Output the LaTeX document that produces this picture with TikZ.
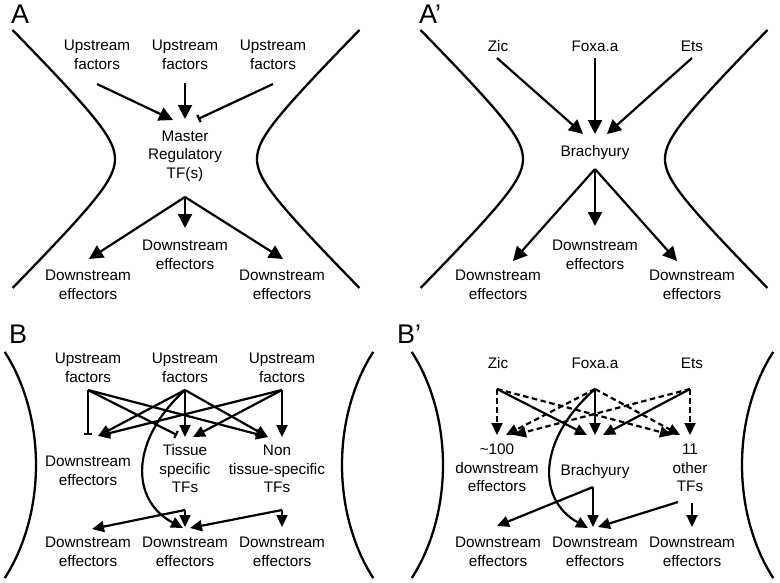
\documentclass[tikz,border=0pt]{standalone}
\usepackage{fontspec}
\setmainfont{Liberation Sans}
\usetikzlibrary{arrows.meta}
\begin{document}
\begin{tikzpicture}[x=1pt,y=-1pt,line width=2.2pt,
  txt/.style={font=\fontsize{15.3}{18.5}\selectfont,align=center,inner sep=0pt},
  lbl/.style={font=\fontsize{27}{30}\selectfont,inner sep=0pt,anchor=base west},
  bigarr/.style={-{Triangle[length=14pt,width=14pt]}},
  smarr/.style={-{Triangle[length=12pt,width=11pt]}},
  inhib/.style={-{Bar[width=8pt]}},
  dsh/.style={dash pattern=on 5.5pt off 3.5pt},
  bound/.style={line width=2.3pt}]
\useasboundingbox (0,0) rectangle (780,582);

% ---------------- boundaries ----------------
\draw[bound] plot[domain=-129:129,samples=90] ({145-10*sqrt(9+(\x/10)^2)},{159+\x});
\draw[bound] plot[domain=-129:129,samples=90] ({227+10*sqrt(9+(\x/10)^2)},{159+\x});
\draw[bound] plot[domain=-129:129,samples=90] ({553-10*sqrt(9+(\x/10)^2)},{159+\x});
\draw[bound] plot[domain=-129:129,samples=90] ({635+10*sqrt(9+(\x/10)^2)},{159+\x});
\draw[bound] plot[domain=-41.4:41.4,samples=60] ({-89+125*cos(\x)},{465+171*sin(\x)});
\draw[bound] plot[domain=-41.4:41.4,samples=60] ({467-125*cos(\x)},{465+171*sin(\x)});
\draw[bound] plot[domain=-41.4:41.4,samples=60] ({318+125*cos(\x)},{465+171*sin(\x)});
\draw[bound] plot[domain=-41.4:41.4,samples=60] ({867-125*cos(\x)},{465+171*sin(\x)});

% ---------------- panel labels ----------------
\node[lbl] (LA) at (10,23) {A};
\node[lbl] (LAp) at (418,23) {A’};
\node[lbl] (LB) at (8,343) {B};
\node[lbl] (LBp) at (396,343) {B’};

% ---------------- panel A ----------------
\node[txt] (Au1) at (97,55) {Upstream\\factors};
\node[txt] (Au2) at (185,55) {Upstream\\factors};
\node[txt] (Au3) at (273,55) {Upstream\\factors};
\node[txt] (AM) at (185,156) {Master\\Regulatory\\TF(s)};
\node[txt] (Ad1) at (88,285) {Downstream\\effectors};
\node[txt] (Ad2) at (185,255) {Downstream\\effectors};
\node[txt] (Ad3) at (282,285) {Downstream\\effectors};
\coordinate (Au1o) at (97,84);
\coordinate (Au2o) at (185,83);
\coordinate (Au3o) at (273,84);
\coordinate (AMi1) at (173,120);
\coordinate (AMi2) at (185,119);
\coordinate (AMi3) at (198,119);
\coordinate (AMo) at (185,197);
\coordinate (Ad1i) at (89,259);
\coordinate (Ad2i) at (185,228);
\coordinate (Ad3i) at (283,259);
\draw[bigarr] (Au1o) -- (AMi1);
\draw[bigarr] (Au2o) -- (AMi2);
\draw[inhib] (Au3o) -- (AMi3);
\draw[bigarr] (AMo) -- (Ad1i);
\draw[bigarr] (AMo) -- (Ad2i);
\draw[bigarr] (AMo) -- (Ad3i);

% ---------------- panel A' ----------------
\node[txt] (Pz) at (498,46) {Zic};
\node[txt] (Pf) at (595,46) {Foxa.a};
\node[txt] (Pe) at (692,46) {Ets};
\node[txt] (PB) at (595,153) {Brachyury};
\node[txt] (Pd1) at (498,285) {Downstream\\effectors};
\node[txt] (Pd2) at (595,255) {Downstream\\effectors};
\node[txt] (Pd3) at (692,285) {Downstream\\effectors};
\coordinate (Pzo) at (497,58);
\coordinate (Pfo) at (595,58);
\coordinate (Peo) at (692,58);
\coordinate (PBi1) at (583,134);
\coordinate (PBi2) at (595,134);
\coordinate (PBi3) at (607,134);
\coordinate (PBo) at (595,169);
\coordinate (Pd1i) at (513,261);
\coordinate (Pd2i) at (595,226);
\coordinate (Pd3i) at (677,261);
\draw[bigarr] (Pzo) -- (PBi1);
\draw[bigarr] (Pfo) -- (PBi2);
\draw[bigarr] (Peo) -- (PBi3);
\draw[bigarr] (PBo) -- (Pd1i);
\draw[bigarr] (PBo) -- (Pd2i);
\draw[bigarr] (PBo) -- (Pd3i);

% ---------------- panel B ----------------
\node[txt] (Bu1) at (88,368) {Upstream\\factors};
\node[txt] (Bu2) at (185,368) {Upstream\\factors};
\node[txt] (Bu3) at (282,368) {Upstream\\factors};
\node[txt] (BD) at (88,471) {Downstream\\effectors};
\node[txt] (BT) at (185,469) {Tissue\\specific\\TFs};
\node[txt] (BN) at (277,469) {Non\\tissue-specific\\TFs};
\node[txt] (Bb1) at (88,552) {Downstream\\effectors};
\node[txt] (Bb2) at (185,552) {Downstream\\effectors};
\node[txt] (Bb3) at (282,552) {Downstream\\effectors};
\coordinate (Bs1) at (88,390);
\coordinate (Bs2) at (185,390);
\coordinate (Bs3) at (282,390);
\coordinate (BDbar) at (88,435);
\coordinate (BDi) at (98,436);
\coordinate (BTbar) at (177,435);
\coordinate (BTi2) at (185,437);
\coordinate (BTi3) at (193,437);
\coordinate (BNi) at (268,437);
\coordinate (BNi3) at (282,437);
\coordinate (BTo) at (185,510);
\coordinate (BNo) at (282,510);
\coordinate (Bb1i) at (92,529);
\coordinate (Bb2i) at (185,527);
\coordinate (Bb2j) at (190,528);
\coordinate (Bb2k) at (183,528);
\coordinate (Bb3i) at (282,527);
\draw[inhib] (Bs1) -- (BDbar);
\draw[inhib] (Bs1) -- (BTbar);
\draw[smarr] (Bs1) -- (BNi);
\draw[smarr] (Bs2) -- (BDi);
\draw[smarr] (Bs2) -- (BTi2);
\draw[smarr] (Bs2) -- (BNi);
\draw[smarr] (Bs3) -- (BDi);
\draw[smarr] (Bs3) -- (BTi3);
\draw[smarr] (Bs3) -- (BNi3);
\draw[smarr] (Bs2) .. controls (130,440) and (130,500) .. (Bb2k);
\draw[smarr] (BTo) -- (Bb1i);
\draw[smarr] (BTo) -- (Bb2i);
\draw[smarr] (BNo) -- (Bb2j);
\draw[smarr] (BNo) -- (Bb3i);

% ---------------- panel B' ----------------
\node[txt] (Qz) at (498,363) {Zic};
\node[txt] (Qf) at (595,363) {Foxa.a};
\node[txt] (Qe) at (692,363) {Ets};
\node[txt] (QD) at (497,468) {\textasciitilde100\\downstream\\effectors};
\node[txt] (QB) at (595,472) {Brachyury};
\node[txt] (QT) at (690,468) {11\\other\\TFs};
\node[txt] (Qb1) at (498,552) {Downstream\\effectors};
\node[txt] (Qb2) at (595,552) {Downstream\\effectors};
\node[txt] (Qb3) at (692,552) {Downstream\\effectors};
\coordinate (Qzo) at (497,389);
\coordinate (Qfo) at (595,389);
\coordinate (Qeo) at (690,389);
\coordinate (QDi) at (497,435);
\coordinate (QDi2) at (506,435);
\coordinate (QDi3) at (514,435);
\coordinate (QBi1) at (587,435);
\coordinate (QBi2) at (595,435);
\coordinate (QBi3) at (603,435);
\coordinate (QTi1) at (672,435);
\coordinate (QTi2) at (680,435);
\coordinate (QTi3) at (690,435);
\coordinate (QBo) at (593,487);
\coordinate (QTo) at (678,502);
\coordinate (QTo2) at (692,503);
\coordinate (Qb1i) at (497,526);
\coordinate (Qb2i) at (593,527);
\coordinate (Qb2j) at (598,527);
\coordinate (Qb2k) at (588,528);
\coordinate (Qb3i) at (692,527);
\draw[smarr,dsh] (Qzo) -- (QDi);
\draw[smarr] (Qzo) -- (QBi1);
\draw[smarr,dsh] (Qzo) -- (QTi1);
\draw[smarr,dsh] (Qfo) -- (QDi2);
\draw[smarr] (Qfo) -- (QBi2);
\draw[smarr,dsh] (Qfo) -- (QTi2);
\draw[smarr,dsh] (Qeo) -- (QDi3);
\draw[smarr] (Qeo) -- (QBi3);
\draw[smarr,dsh] (Qeo) -- (QTi3);
\draw[smarr] (Qfo) .. controls (537,440) and (537,500) .. (Qb2k);
\draw[smarr] (QBo) -- (Qb1i);
\draw[smarr] (QBo) -- (Qb2i);
\draw[smarr] (QTo) -- (Qb2j);
\draw[smarr] (QTo2) -- (Qb3i);
\end{tikzpicture}
\end{document}
